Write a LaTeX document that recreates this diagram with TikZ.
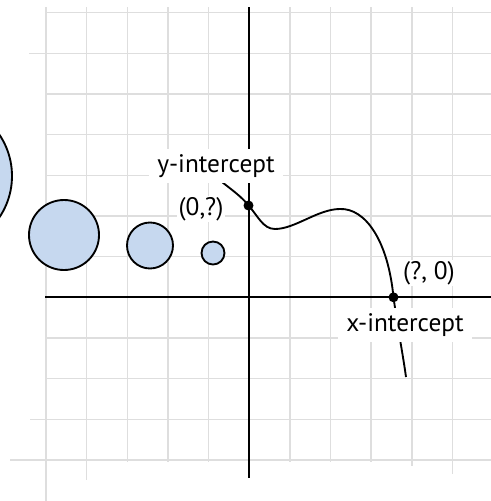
\documentclass[tikz,border=0pt]{standalone}
\usepackage{fontspec}
\setmainfont{PT Sans}
\definecolor{bubble}{RGB}{198,216,239}

\begin{document}
\begin{tikzpicture}[x=0.75pt,y=-0.75pt,
  gridline/.style={black!13,line width=1.1pt},
  axisline/.style={line width=1.6pt},
  ball/.style={draw,line width=1.4pt,fill=bubble},
  lbl/.style={fill=white,inner xsep=6pt,inner ysep=4pt,font=\fontsize{19}{22}\selectfont}]
\useasboundingbox (0,0) rectangle (491,501);
\coordinate (S) at (222,182); \coordinate (Y) at (248.5,205.5); \coordinate (M) at (275,229);
\coordinate (P) at (340,209); \coordinate (X) at (393.5,297.3); \coordinate (B) at (406,377);
% grid
\foreach \i/\e in {0/501,1/480,2/462,3/462,4/462,6/462,7/462,8/462,9/466,10/474}
  \draw[gridline] ({46+40.65*\i},7) -- ({46+40.65*\i},\e);
\foreach \k/\s in {-7/46,-6/29,-5/46,-4/46,-3/46,-2/46,-1/46,1/46,2/46,3/30,4/10}
  \draw[gridline] (\s,{297.3+40.65*\k}) -- (491,{297.3+40.65*\k});
% bubbles
\draw[ball] (-62,176) circle (74);
\draw[ball] (64,235) circle (35);
\draw[ball] (150,245.5) circle (23);
\draw[ball] (213,253) circle (11.5);
% axes
\draw[axisline] (248.7,7) -- (248.7,478);
\draw[axisline] (45,297.3) -- (491,297.3);
% curve
\draw[line width=1.4pt] (S) .. controls (232,190) and (242,197) .. (Y)
  .. controls (258,216) and (263,229) .. (M)
  .. controls (295,229) and (318,209) .. (P)
  .. controls (365,208) and (388,240) .. (X)
  .. controls (398,330) and (403,355) .. (B);
\node[lbl] (ylbl) at (216,166) {y-intercept};
\node[lbl] (xlbl) at (405,325) {x-intercept};
\node[lbl,inner sep=1pt] (yval) at (201,209) {(0,?)};
\node[lbl,inner sep=1pt] (xval) at (429,273) {(?, 0)};
\fill (Y) circle (5);
\fill (X) circle (5);
\end{tikzpicture}
\end{document}
